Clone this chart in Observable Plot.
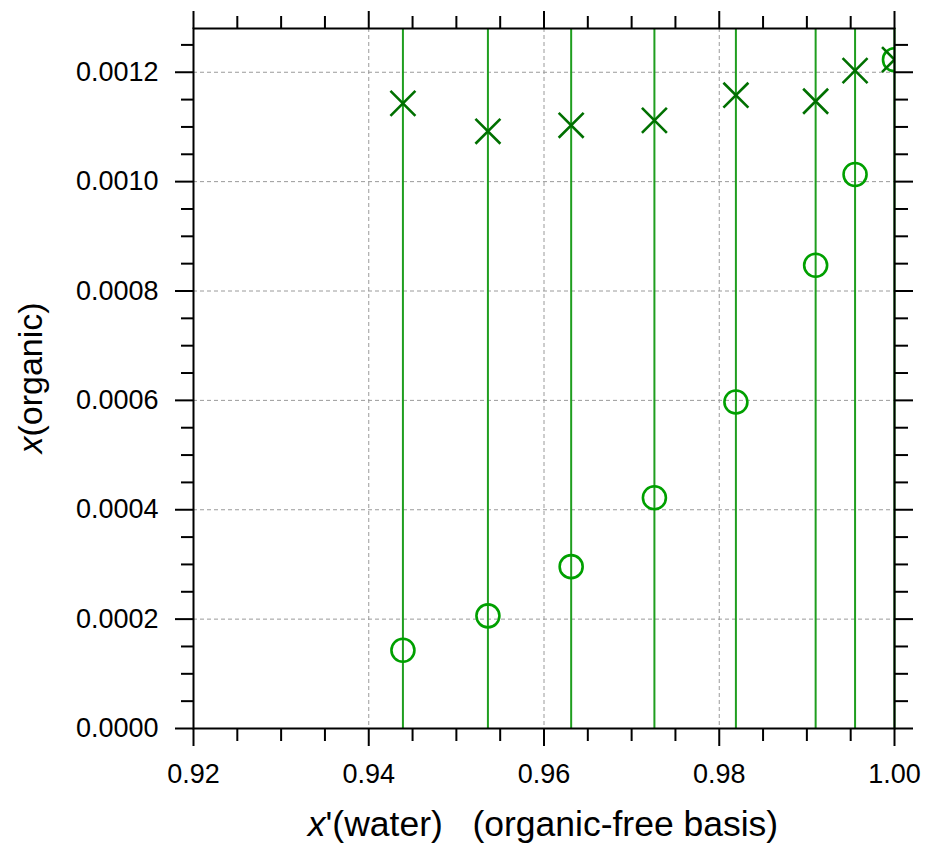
<!DOCTYPE html>
<html>
<head>
<meta charset="utf-8">
<script src="https://cdn.jsdelivr.net/npm/d3@7"></script>
<script src="https://cdn.jsdelivr.net/npm/@observablehq/plot@0.6"></script>
<style>
  html, body { margin: 0; padding: 0; background: #fff; }
  svg { display: block; }
</style>
</head>
<body>
<div id="chart"></div>
<script>
// x'(water), organic-free basis
const xWater = [0.9439, 0.9536, 0.9631, 0.9726, 0.9819, 0.9910, 0.9955, 1.0];
// x(organic), cross series
const crossValues = [0.001143, 0.001092, 0.001103, 0.001112, 0.001158, 0.001147, 0.001203, 0.001223];
// x(organic), circle series
const circleValues = [0.000143, 0.000206, 0.000296, 0.000422, 0.000597, 0.000847, 0.001013, 0.001223];

const xMajorTicks = [0.92, 0.94, 0.96, 0.98, 1.00];
const xMinorTicks = [0.925, 0.93, 0.935, 0.945, 0.95, 0.955, 0.965, 0.97, 0.975, 0.985, 0.99, 0.995];
const xGridTicks = [0.94, 0.96, 0.98];
const yMajorTicks = [0, 0.0002, 0.0004, 0.0006, 0.0008, 0.0010, 0.0012];
const yMinorTicks = [0.00005, 0.0001, 0.00015, 0.00025, 0.0003, 0.00035, 0.00045, 0.0005, 0.00055,
  0.00065, 0.0007, 0.00075, 0.00085, 0.0009, 0.00095, 0.00105, 0.0011, 0.00115, 0.00125];
const yGridTicks = [0.0002, 0.0004, 0.0006, 0.0008, 0.0010, 0.0012];

const crossData = xWater.map((x, i) => ({x, y: crossValues[i]}));
const circleData = xWater.map((x, i) => ({x, y: circleValues[i]}));

const blank = () => "";
const tickStyle = {stroke: "black", strokeWidth: 2, strokeOpacity: 1};

const plot = Plot.plot({
  width: 927,
  height: 848,
  marginLeft: 193,
  marginRight: 33,
  marginTop: 28,
  marginBottom: 120,
  style: {fontFamily: "'Liberation Sans', Arial, sans-serif", background: "#fff", color: "black"},
  x: {domain: [0.92, 1.0]},
  y: {domain: [0, 0.00128]},
  marks: [
    Plot.gridX({ticks: xGridTicks, stroke: "#9a9a9a", strokeOpacity: 1, strokeWidth: 1, strokeDasharray: "4,3"}),
    Plot.gridY({ticks: yGridTicks, stroke: "#9a9a9a", strokeOpacity: 1, strokeWidth: 1, strokeDasharray: "4,3"}),
    Plot.ruleX(xWater, {stroke: "#1f9e1f", strokeWidth: 2}),
    Plot.dot(circleData, {x: "x", y: "y", r: 11.5, stroke: "#00a000", strokeWidth: 2.6, fill: "none", clip: "frame"}),
    Plot.dot(crossData, {x: "x", y: "y", r: 11.4, symbol: "times", stroke: "#007000", strokeWidth: 2.6, fill: "none", clip: "frame"}),
    // bottom axis
    Plot.axisX({anchor: "bottom", ticks: xMajorTicks, tickSize: 18, tickPadding: 17, fontSize: 27, tickFormat: d3.format(".2f"), label: null, ...tickStyle}),
    Plot.axisX({anchor: "bottom", ticks: xMinorTicks, tickSize: 13, tickFormat: blank, label: null, ...tickStyle}),
    // top axis
    Plot.axisX({anchor: "top", ticks: xMajorTicks, tickSize: 18, tickFormat: blank, label: null, ...tickStyle}),
    Plot.axisX({anchor: "top", ticks: xMinorTicks, tickSize: 13, tickFormat: blank, label: null, ...tickStyle}),
    // left axis
    Plot.axisY({anchor: "left", ticks: yMajorTicks, tickSize: 18, tickPadding: 17, fontSize: 27, tickFormat: d3.format(".4f"), label: null, ...tickStyle}),
    Plot.axisY({anchor: "left", ticks: yMinorTicks, tickSize: 12, tickFormat: blank, label: null, ...tickStyle}),
    // right axis
    Plot.axisY({anchor: "right", ticks: yMajorTicks, tickSize: 18, tickFormat: blank, label: null, ...tickStyle}),
    Plot.axisY({anchor: "right", ticks: yMinorTicks, tickSize: 13, tickFormat: blank, label: null, ...tickStyle}),
    Plot.frame({stroke: "black", strokeWidth: 2})
  ]
});

const svg = d3.select(plot);
// x axis title
const xt = svg.append("text")
  .attr("x", 543).attr("y", 836)
  .attr("text-anchor", "middle")
  .attr("font-size", 35.5)
  .attr("fill", "black");
xt.append("tspan").attr("font-style", "italic").text("x");
xt.append("tspan").text("'(water)\u00a0\u00a0\u00a0(organic-free basis)");

// y axis title
const yt = svg.append("text")
  .attr("transform", "translate(42,378) rotate(-90)")
  .attr("text-anchor", "middle")
  .attr("font-size", 34)
  .attr("fill", "black");
yt.append("tspan").attr("font-style", "italic").text("x");
yt.append("tspan").text("(organic)");

document.getElementById("chart").appendChild(plot);
</script>
</body>
</html>
